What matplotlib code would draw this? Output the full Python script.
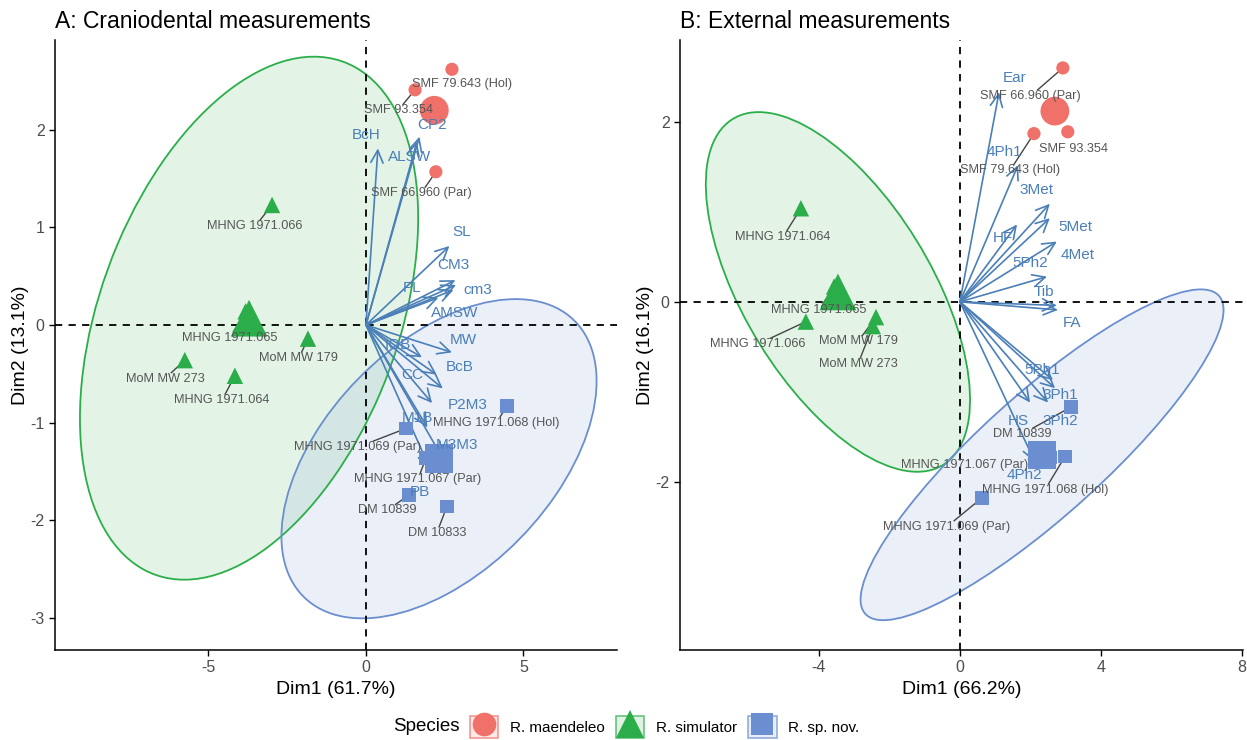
import numpy as np
import matplotlib.pyplot as plt
from matplotlib.patches import Ellipse, Patch
from matplotlib.lines import Line2D

plt.rcParams['font.family'] = ['Liberation Sans', 'DejaVu Sans']
plt.rcParams['axes.unicode_minus'] = False

species = ["R. maendeleo", "R. simulator", "R. sp. nov."]
sp_color = {"R. maendeleo": "#F0716A", "R. simulator": "#2BAE4A", "R. sp. nov.": "#6A8ECF"}
sp_marker = {"R. maendeleo": "o", "R. simulator": "^", "R. sp. nov.": "s"}
var_color = "#4A7FB8"
lab_color = "#555555"

# ---- panel A: craniodental ----
a_names = ["SMF 79.643 (Hol)", "SMF 93.354", "SMF 66.960 (Par)",
           "MHNG 1971.066", "MHNG 1971.065", "MoM MW 179", "MoM MW 273", "MHNG 1971.064",
           "MHNG 1971.068 (Hol)", "MHNG 1971.069 (Par)", "MHNG 1971.067 (Par)", "DM 10839", "DM 10833"]
a_group = ["R. maendeleo"] * 3 + ["R. simulator"] * 5 + ["R. sp. nov."] * 5
a_x = [2.73, 1.56, 2.22, -2.98, -3.82, -1.84, -5.75, -4.16, 4.48, 1.27, 1.91, 1.37, 2.57]
a_y = [2.62, 2.41, 1.57, 1.23, 0.14, -0.14, -0.36, -0.52, -0.83, -1.06, -1.36, -1.74, -1.86]
a_lab_x = [3.05, 1.02, 1.75, -3.52, -4.32, -2.13, -6.38, -4.57, 4.14, -0.25, 1.65, 0.67, 2.25]
a_lab_y = [2.47, 2.20, 1.35, 1.01, -0.13, -0.34, -0.55, -0.77, -1.00, -1.25, -1.58, -1.90, -2.13]

a_vars = ["BcH", "CP2", "ALSW", "SL", "CM3", "cm3", "PL", "AMSW",
          "MW", "IOB", "CC", "BcB", "P2M3", "M1B", "M3M3", "PB"]
a_var_x = [0.38, 1.70, 1.62, 2.65, 2.84, 2.86, 2.78, 2.30, 2.73, 1.78, 2.25, 2.44, 2.10, 1.95, 2.41, 2.03]
a_var_y = [1.81, 1.93, 1.88, 0.81, 0.46, 0.41, 0.36, 0.28, -0.28, -0.33, -0.51, -0.65, -0.80, -1.05, -1.35, -1.47]
a_var_lab_x = [0.0, 2.10, 1.37, 3.05, 2.76, 3.56, 1.46, 2.83, 3.08, 1.02, 1.46, 2.98, 3.24, 1.62, 2.89, 1.71]
a_var_lab_y = [1.95, 2.05, 1.72, 0.95, 0.61, 0.36, 0.38, 0.12, -0.15, -0.20, -0.51, -0.43, -0.82, -0.95, -1.23, -1.71]

# ellipse (semi-major, semi-minor, angle in degrees) per group
a_ellipse = {"R. simulator": (5.49, 2.42, 13.5), "R. sp. nov.": (5.07, 1.41, 9.8)}

# ---- panel B: external ----
b_names = ["SMF 66.960 (Par)", "SMF 79.643 (Hol)", "SMF 93.354",
           "MHNG 1971.064", "MHNG 1971.065", "MHNG 1971.066", "MoM MW 179", "MoM MW 273",
           "DM 10839", "MHNG 1971.067 (Par)", "MHNG 1971.068 (Hol)", "MHNG 1971.069 (Par)"]
b_group = ["R. maendeleo"] * 3 + ["R. simulator"] * 5 + ["R. sp. nov."] * 4
b_x = [2.92, 2.10, 3.06, -4.51, -3.57, -4.37, -2.38, -2.47, 3.15, 2.57, 2.98, 0.62]
b_y = [2.60, 1.87, 1.89, 1.04, 0.17, -0.22, -0.17, -0.27, -1.17, -1.73, -1.72, -2.18]
b_lab_x = [2.01, 1.42, 3.21, -5.02, -4.0, -5.73, -2.89, -2.89, 1.76, 0.14, 2.41, -0.37]
b_lab_y = [2.29, 1.46, 1.70, 0.72, -0.09, -0.47, -0.44, -0.69, -1.47, -1.81, -2.09, -2.50]

b_vars = ["Ear", "4Ph1", "3Met", "HF", "5Met", "4Met", "5Ph2", "Tib", "FA",
          "5Ph1", "3Ph1", "3Ph2", "HS", "4Ph2"]
b_var_x = [1.11, 1.65, 2.55, 1.62, 2.55, 2.75, 2.47, 2.75, 2.78, 2.64, 2.70, 2.50, 1.99, 2.13]
b_var_y = [2.33, 1.52, 1.09, 0.86, 0.93, 0.67, 0.28, -0.04, -0.09, -0.87, -0.96, -1.12, -1.12, -1.78]
b_var_lab_x = [1.56, 1.25, 2.16, 1.22, 3.26, 3.35, 1.99, 2.38, 3.18, 2.33, 2.84, 2.84, 1.65, 1.82]
b_var_lab_y = [2.49, 1.67, 1.24, 0.71, 0.83, 0.52, 0.43, 0.11, -0.23, -0.76, -1.04, -1.32, -1.32, -1.93]

b_ellipse = {"R. simulator": (3.97, 1.51, -20.9), "R. sp. nov.": (5.40, 0.85, 17.8)}

point_size = {"o": 90, "^": 140, "s": 95}
centroid_size = {"o": 430, "^": 700, "s": 420}

fig = plt.figure(figsize=(12.47, 7.40), dpi=100)
axA = fig.add_axes([0.0441, 0.1216, 0.4507, 0.8243])
axB = fig.add_axes([0.5453, 0.1216, 0.4515, 0.8243])


def draw_panel(ax, names, group, xs, ys, lx, ly, vars_, vx, vy, vlx, vly, ellipses):
    xs = np.array(xs)
    ys = np.array(ys)
    group = np.array(group)
    ax.axhline(0, color="black", lw=1.3, ls=(0, (4, 3.5)), zorder=2)
    ax.axvline(0, color="black", lw=1.3, ls=(0, (4, 3.5)), zorder=2)
    for sp in species:
        m = group == sp
        cx, cy = xs[m].mean(), ys[m].mean()
        if sp in ellipses:
            w, h, ang = ellipses[sp]
            ax.add_patch(Ellipse((cx, cy), 2 * w, 2 * h, angle=ang,
                                 facecolor=sp_color[sp], alpha=0.13, edgecolor="none", zorder=1))
            ax.add_patch(Ellipse((cx, cy), 2 * w, 2 * h, angle=ang,
                                 facecolor="none", edgecolor=sp_color[sp], lw=1.3, zorder=1.5))
        mk = sp_marker[sp]
        ax.scatter(xs[m], ys[m], s=point_size[mk], marker=mk, color=sp_color[sp],
                   edgecolors="none", zorder=5)
        ax.scatter([cx], [cy], s=centroid_size[mk], marker=mk, color=sp_color[sp],
                   edgecolors="none", zorder=5)
    for i, v in enumerate(vars_):
        ax.annotate("", xy=(vx[i], vy[i]), xytext=(0, 0),
                    arrowprops=dict(arrowstyle="->,head_length=0.45,head_width=0.22",
                                    color=var_color, lw=1.2, shrinkA=0, shrinkB=0,
                                    mutation_scale=20), zorder=4)
        ax.text(vlx[i], vly[i], v, color=var_color, fontsize=11,
                ha="center", va="center", zorder=6)
    texts = []
    for i, n in enumerate(names):
        t = ax.text(lx[i], ly[i], n, color=lab_color, fontsize=9.2,
                    ha="center", va="center", zorder=6)
        texts.append(t)
    return texts


textsA = draw_panel(axA, a_names, a_group, a_x, a_y, a_lab_x, a_lab_y,
                    a_vars, a_var_x, a_var_y, a_var_lab_x, a_var_lab_y, a_ellipse)
textsB = draw_panel(axB, b_names, b_group, b_x, b_y, b_lab_x, b_lab_y,
                    b_vars, b_var_x, b_var_y, b_var_lab_x, b_var_lab_y, b_ellipse)

for ax, title, xl, yl, xlim, ylim, xt, yt in [
        (axA, "A: Craniodental measurements", "Dim1 (61.7%)", "Dim2 (13.1%)",
         (-9.87, 7.97), (-3.33, 2.92), [-5, 0, 5], [-3, -2, -1, 0, 1, 2]),
        (axB, "B: External measurements", "Dim1 (66.2%)", "Dim2 (16.1%)",
         (-7.94, 8.03), (-3.87, 2.91), [-4, 0, 4, 8], [-2, 0, 2])]:
    ax.set_xlim(*xlim)
    ax.set_ylim(*ylim)
    ax.set_xticks(xt)
    ax.set_yticks(yt)
    ax.set_title(title, loc="left", fontsize=16.5, pad=9)
    ax.set_xlabel(xl, fontsize=14, labelpad=4)
    ax.set_ylabel(yl, fontsize=14, labelpad=1)
    ax.spines["top"].set_visible(False)
    ax.spines["right"].set_visible(False)
    for s in ("left", "bottom"):
        ax.spines[s].set_linewidth(1.1)
    ax.tick_params(direction="out", length=4, width=1, labelsize=11.5, labelcolor="#4D4D4D")

# connector segments from points to their labels
fig.canvas.draw()
renderer = fig.canvas.get_renderer()
for ax, texts, xs, ys in [(axA, textsA, a_x, a_y), (axB, textsB, b_x, b_y)]:
    inv = ax.transData.inverted()
    for t, px, py in zip(texts, xs, ys):
        bb = t.get_window_extent(renderer).expanded(1.0, 1.0)
        p = ax.transData.transform((px, py))
        c = np.array([(bb.x0 + bb.x1) / 2, (bb.y0 + bb.y1) / 2])
        if bb.contains(p[0], p[1]):
            continue
        d = c - p
        ts = []
        if d[0] != 0:
            ts.append(((bb.x0 if d[0] > 0 else bb.x1) - p[0]) / d[0])
        if d[1] != 0:
            ts.append(((bb.y0 if d[1] > 0 else bb.y1) - p[1]) / d[1])
        tt = max(ts)
        e = p + tt * d
        if np.hypot(*(e - p)) < 12:
            continue
        q0 = inv.transform(p)
        q1 = inv.transform(e)
        ax.add_line(Line2D([q0[0], q1[0]], [q0[1], q1[1]], color="#444444", lw=1.0, zorder=3))

# legend at bottom
fig.text(0.342, 0.0176, "Species", fontsize=13.5, ha="center", va="center")
handles = []
for sp in species:
    mk = sp_marker[sp]
    ms = {"o": 17, "^": 20, "s": 16.5}[mk]
    handles.append((Patch(facecolor=sp_color[sp], alpha=0.15, edgecolor="none"),
                    Patch(facecolor="none", edgecolor=sp_color[sp], lw=1.2, alpha=0.7),
                    Line2D([], [], marker=mk, ls="", color=sp_color[sp], markersize=ms,
                           markeredgewidth=0)))
fig.legend(handles, species, loc="center left", bbox_to_anchor=(0.377, 0.0176), ncol=3,
           frameon=False, fontsize=11, handlelength=1.85, handleheight=1.85,
           handletextpad=0.75, columnspacing=0.75, borderaxespad=0, borderpad=0)

fig.savefig("out.png", dpi=100)
